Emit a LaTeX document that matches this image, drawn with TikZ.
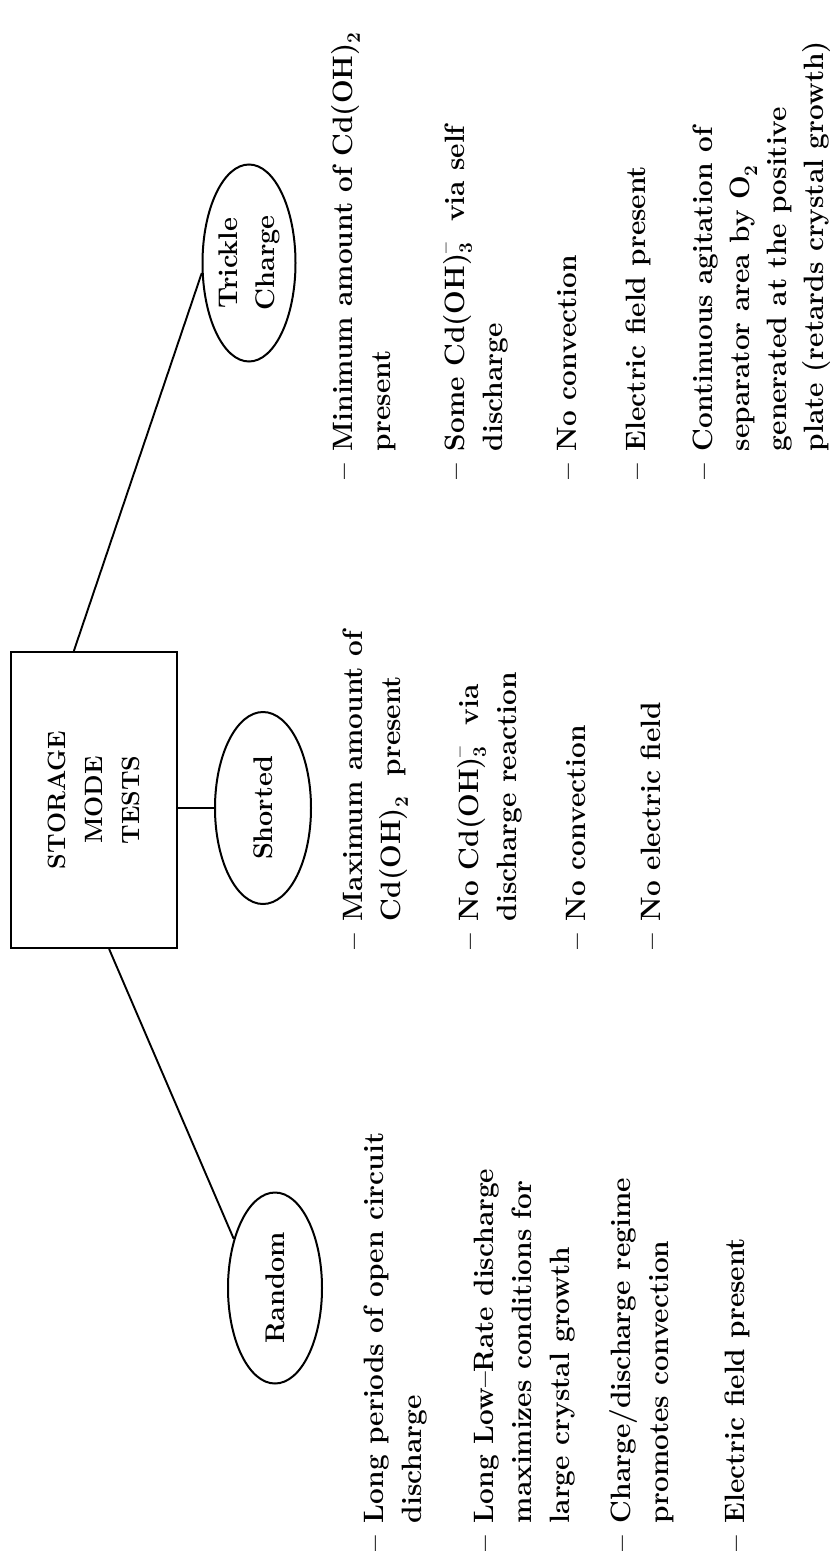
\documentclass[tikz,border=0pt]{standalone}
\usepackage{fontspec}
\usetikzlibrary{shapes.geometric,calc}
\newcommand\mysub[1]{\raisebox{-0.28em}{\fontsize{19}{19}\selectfont #1}}
\newcommand\mysup[1]{\raisebox{0.45em}{\fontsize{19}{19}\selectfont #1}}
\newcommand\mysubsup[2]{\makebox[0pt][l]{\mysub{#1}}\mysup{#2}}
\newcommand\ditem[1]{\begin{tabular}[t]{@{}l@{\hspace{13pt}}l@{}}--&#1\end{tabular}}
\begin{document}
\begin{tikzpicture}[x=1pt,y=-1pt,
  itemtext/.style={rotate=90,anchor=base west,inner sep=0pt,font=\fontsize{28}{38}\selectfont\bfseries},
  oval/.style={draw,ellipse,rotate=90,line width=2pt,inner sep=0pt,align=center,font=\fontsize{27}{37}\selectfont\bfseries},
  boxnode/.style={draw,rectangle,rotate=90,line width=2pt,inner sep=0pt,align=center,minimum width=296pt,minimum height=166pt,font=\fontsize{25}{37}\selectfont\bfseries},
  link/.style={line width=1.9pt}]
\fill[white] (0,0) rectangle (830,1554);
\path[use as bounding box] (0,0) rectangle (830,1554);

% central box and ovals
\node[boxnode] (box) at (94,800) {STORAGE\\MODE\\TESTS};
\node[oval,minimum width=197pt,minimum height=93pt] (tc) at (249,263) {Trickle\\Charge};
\node[oval,minimum width=192pt,minimum height=96pt] (sh) at (263,808) {Shorted};
\node[oval,minimum width=191pt,minimum height=94pt] (rd) at (275,1288) {Random};

% connectors
\draw[link] ($(box.east)!0.24!(box.north east)$) -- (tc.102);
\draw[link] (sh.north -| box.south) -- (sh.north);
\draw[link] ($(box.west)!0.18!(box.south west)$) -- (rd.40);

% Trickle charge items
\node[itemtext] (tc1) at (352,480) {\ditem{Minimum amount of Cd(OH)\mysub{2}\\&present}};
\node[itemtext] (tc2) at (464,480) {\ditem{Some Cd(OH)\mysubsup{3}{--}\ \ via self\\&discharge}};
\node[itemtext] (tc3) at (576,480) {\ditem{No convection}};
\node[itemtext] (tc4) at (645,480) {\ditem{Electric field present}};
\node[itemtext,font=\fontsize{28}{37.3}\selectfont\bfseries] (tc5) at (712,480) {\ditem{Continuous agitation of\\&separator area by O\mysub{2}\\&generated at the positive\\&plate (retards crystal growth)}};

% Shorted items
\node[itemtext] (sh1) at (362,950) {\ditem{Maximum amount of\\&Cd(OH)\mysub{2}\ \ present}};
\node[itemtext] (sh2) at (478,950) {\ditem{No Cd(OH)\mysubsup{3}{--}\ \ via\\&discharge reaction}};
\node[itemtext] (sh3) at (585,950) {\ditem{No convection}};
\node[itemtext] (sh4) at (660,950) {\ditem{No electric field}};

% Random items
\node[itemtext] (rd1) at (383,1552) {\ditem{Long periods of open circuit\\&discharge}};
\node[itemtext] (rd2) at (493,1552) {\ditem{Long Low--Rate discharge\\&maximizes conditions for\\&large crystal growth}};
\node[itemtext] (rd3) at (630,1552) {\ditem{Charge/discharge regime\\&promotes convection}};
\node[itemtext] (rd4) at (744,1552) {\ditem{Electric field present}};
\end{tikzpicture}
\end{document}
